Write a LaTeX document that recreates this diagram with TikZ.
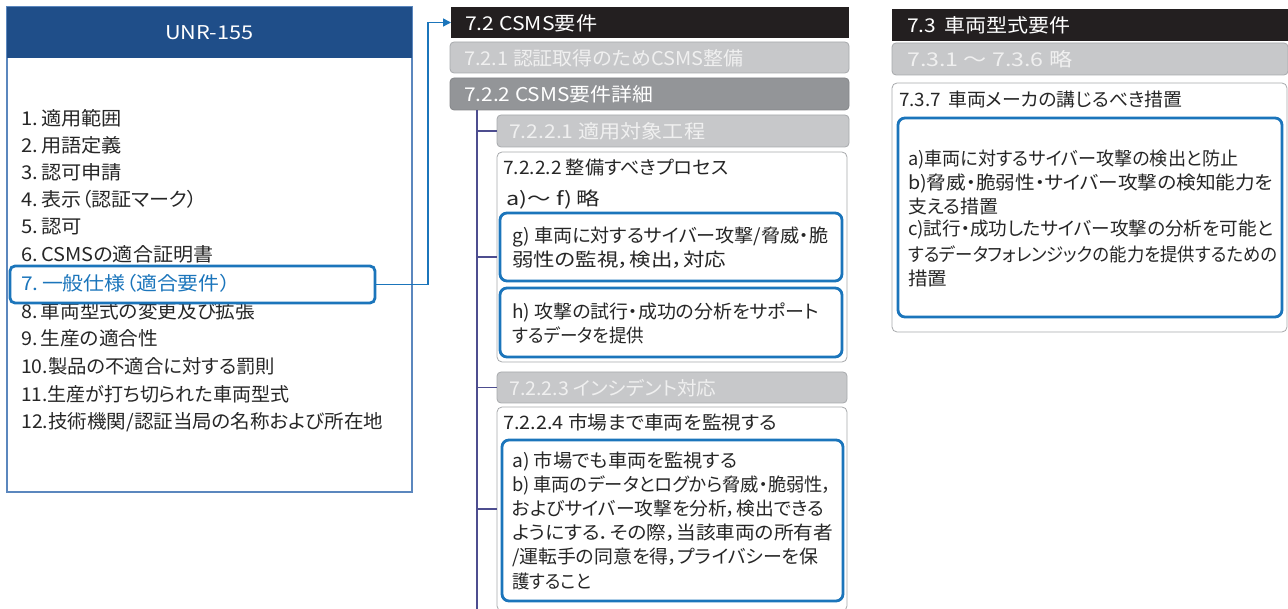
\documentclass[tikz,border=0pt]{standalone}
\usepackage{graphicx}
\usepackage{fontspec}
\setmainfont{Noto Sans CJK JP}[RawFeature=+palt]
\usetikzlibrary{arrows.meta}
\definecolor{navy}{HTML}{1F4E89}
\definecolor{outline}{HTML}{5B87BE}
\definecolor{hlblue}{HTML}{1B75BB}
\definecolor{barblack}{HTML}{231F20}
\definecolor{lgray}{HTML}{C7C8CA}
\definecolor{dgray}{HTML}{939598}
\definecolor{gborder}{HTML}{A7A9AC}
\definecolor{treec}{HTML}{4D4D8F}
\definecolor{txtc}{HTML}{262626}
\definecolor{pale}{HTML}{F0F0F0}
\newcommand\fsL{\fontsize{19}{23}\selectfont}
\newcommand\fsM{\fontsize{18.5}{22}\selectfont}
\newcommand\fsH{\fontsize{19}{23}\selectfont}
\newcommand\fw[2]{\resizebox{#1pt}{\height}{#2}}
\begin{document}
\begin{tikzpicture}[x=1pt,y=-1pt,
  box/.style={inner sep=0, outer sep=0, anchor=north west},
  hdrblue/.style={box, fill=navy},
  blackbar/.style={box, fill=barblack},
  graybox/.style={box, fill=lgray, draw=gborder, line width=0.8pt, rounded corners=4pt},
  darkbox/.style={box, fill=dgray, draw=dgray!90!black, line width=0.8pt, rounded corners=4pt},
  whitebox/.style={box, fill=white, draw=gborder, line width=0.8pt, rounded corners=5pt},
  bluebox/.style={box, draw=hlblue, line width=2.8pt, rounded corners=7pt},
  txt/.style={inner sep=0, anchor=west, text=txtc},
  ltxt/.style={txt, font=\fsL},
  mtxt/.style={txt, font=\fsM},
  wtxt/.style={inner sep=0, anchor=west, text=white, font=\fsH},
  ptxt/.style={inner sep=0, anchor=west, text=pale, font=\fsH},
  conn/.style={draw=hlblue, line width=1.4pt, -{Triangle[length=8pt,width=8pt]}},
  tree/.style={draw=treec, line width=1.3pt}
]
\useasboundingbox (0,0) rectangle (1288,609);

% ---------- left column ----------
\node[box, draw=outline, line width=1.2pt, minimum width=405, minimum height=485] (unrbox) at (7,7) {};
\node[hdrblue, minimum width=405, minimum height=51] (unr) at (7,7) {};
\node[inner sep=0, anchor=west, text=white, font=\fsH] (unrt) at (165,33) {\fw{88}{UNR-155}};
\node[ltxt] (l1) at (21,118) {\fw{101}{1.\,適用範囲}};
\node[ltxt] (l2) at (21,145) {\fw{101}{2.\,用語定義}};
\node[ltxt] (l3) at (21,172) {\fw{101}{3.\,認可申請}};
\node[ltxt] (l4) at (21,199) {\fw{176}{4.\,表示（認証マーク）}};
\node[ltxt] (l5) at (21,227) {\fw{61}{5.\,認可}};
\node[ltxt] (l6) at (21,254) {\fw{192}{6.\,CSMSの適合証明書}};
\node[ltxt, text=hlblue] (l7) at (21,283) {\fw{209}{7.\,一般仕様（適合要件）}};
\node[ltxt] (l8) at (21,311) {\fw{234}{8.\,車両型式の変更及び拡張}};
\node[ltxt] (l9) at (21,338) {\fw{137}{9.\,生産の適合性}};
\node[ltxt] (l10) at (21,366) {\fw{254}{10.製品の不適合に対する罰則}};
\node[ltxt] (l11) at (21,394) {\fw{268}{11.生産が打ち切られた車両型式}};
\node[ltxt] (l12) at (21,422) {\fw{362}{12.技術機関/認証当局の名称および所在地}};
\node[box, draw=hlblue, line width=2.8pt, rounded corners=5pt, minimum width=365, minimum height=37] (hl7) at (10,266) {};

% ---------- middle column ----------
\node[blackbar, minimum width=398, minimum height=31] (h72) at (451,7) {};
\node[wtxt] at (465,23) {\fw{132}{7.2 CSMS要件}};
\draw[conn] (hl7.east) -- ++(53,0) |- (h72.west);

\node[graybox, minimum width=399, minimum height=31] (b721) at (450,42) {};
\node[ptxt] at (464,58) {\fw{279}{7.2.1 認証取得のためCSMS整備}};
\node[darkbox, minimum width=399, minimum height=32] (b722) at (450,78) {};
\node[wtxt] at (464,94) {\fw{189}{7.2.2 CSMS要件詳細}};

\coordinate (trunktop) at (477,110);
\coordinate (trunkbot) at (477,612);
\draw[tree] (trunktop) -- (trunkbot);

\node[graybox, minimum width=352, minimum height=32] (b7221) at (497,115) {};
\node[ptxt] at (509,131) {\fw{196}{7.2.2.1 適用対象工程}};

\node[whitebox, minimum width=350, minimum height=210] (b7222) at (497,152) {};
\node[mtxt] at (503,167) {\fw{225}{7.2.2.2 整備すべきプロセス}};
\node[mtxt] at (506,200) {\fw{94}{a)～ f)\,略}};
\node[bluebox, minimum width=342, minimum height=68] (bg) at (500,213) {};
\node[mtxt] at (512,237) {\fw{316}{g) 車両に対するサイバー攻撃/脅威・脆}};
\node[mtxt] at (512,260) {\fw{214}{弱性の監視，検出，対応}};
\node[bluebox, minimum width=342, minimum height=69] (bh) at (500,288) {};
\node[mtxt] at (512,312) {\fw{307}{h) 攻撃の試行・成功の分析をサポート}};
\node[mtxt] at (512,335) {\fw{132}{するデータを提供}};

\node[graybox, minimum width=350, minimum height=31] (b7223) at (497,372) {};
\node[ptxt] at (509,388) {\fw{207}{7.2.2.3 インシデント対応}};

\node[whitebox, minimum width=350, minimum height=204] (b7224) at (497,407) {};
\node[mtxt] at (503,422) {\fw{274}{7.2.2.4 市場まで車両を監視する}};
\node[bluebox, minimum width=341, minimum height=161] (bab) at (502,440) {};
\node[mtxt] at (512,461) {\fw{225}{a) 市場でも車両を監視する}};
\node[mtxt] at (512,485) {\fw{320}{b) 車両のデータとログから脅威・脆弱性，}};
\node[mtxt] at (512,509) {\fw{312}{およびサイバー攻撃を分析，検出できる}};
\node[mtxt] at (512,533) {\fw{321}{ようにする．その際，当該車両の所有者}};
\node[mtxt] at (512,557) {\fw{306}{/運転手の同意を得，プライバシーを保}};
\node[mtxt] at (512,581) {\fw{79}{護すること}};

\draw[tree] (trunktop |- b7221.west) -- (b7221.west);
\draw[tree] (trunktop |- b7222.west) -- (b7222.west);
\draw[tree] (trunktop |- b7223.west) -- (b7223.west);
\draw[tree] (trunktop |- b7224.west) -- (b7224.west);

% ---------- right column ----------
\node[blackbar, minimum width=400, minimum height=32] (h73) at (892,9) {};
\node[wtxt] at (907,25) {\fw{163}{7.3\hspace{7pt}車両型式要件}};
\node[graybox, minimum width=396, minimum height=32] (b731) at (892,43) {};
\node[ptxt] at (907,59) {\fw{165}{7.3.1 ～ 7.3.6 略}};
\node[whitebox, minimum width=395, minimum height=249] (b737) at (892,83) {};
\node[mtxt] at (899,100) {\fw{283}{7.3.7\hspace{7pt}車両メーカの講じるべき措置}};
\node[bluebox, minimum width=384, minimum height=199] (b737b) at (898,118) {};
\node[mtxt] at (908,160) {\fw{330}{a)車両に対するサイバー攻撃の検出と防止}};
\node[mtxt] at (908,183) {\fw{365}{b)脅威・脆弱性・サイバー攻撃の検知能力を}};
\node[mtxt] at (908,206) {\fw{90}{支える措置}};
\node[mtxt] at (908,230) {\fw{365}{c)試行・成功したサイバー攻撃の分析を可能と}};
\node[mtxt] at (908,254) {\fw{369}{するデータフォレンジックの能力を提供するための}};
\node[mtxt] at (908,278) {\fw{39}{措置}};
\end{tikzpicture}
\end{document}
